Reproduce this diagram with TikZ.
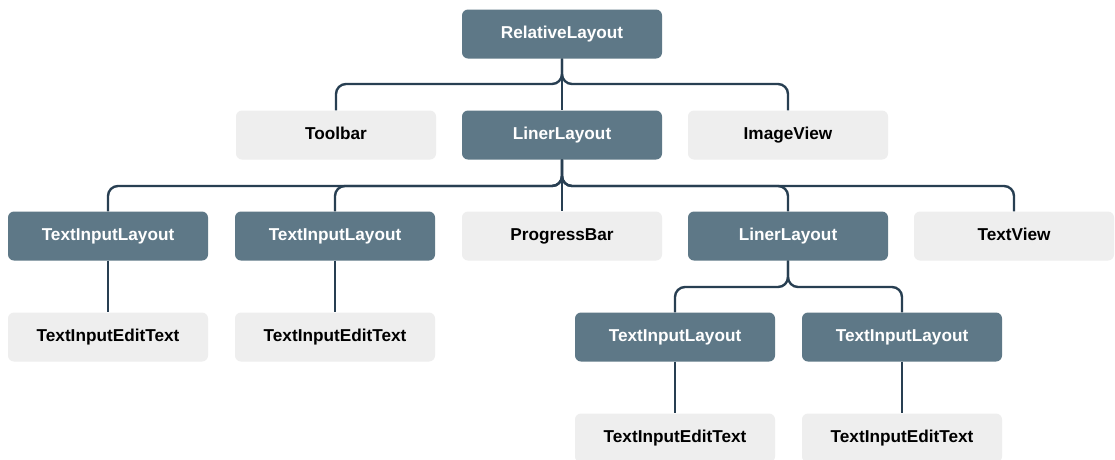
\documentclass[tikz,border=0pt]{standalone}
\usepackage{fontspec}
\setmainfont{Liberation Sans}
\definecolor{slate}{HTML}{5E7887}
\definecolor{leaf}{HTML}{EEEEEE}
\definecolor{wire}{HTML}{283F52}
\tikzset{
  box/.style={rounded corners=6pt, minimum width=200pt, minimum height=49pt,
    inner sep=0pt, text height=12.6pt, text depth=3.4pt,
    font=\fontsize{17.2}{20}\selectfont\bfseries},
  group/.style={box, fill=slate, text=white},
  item/.style={box, fill=leaf, text=black},
  link/.style={draw=wire, line width=2.4pt, rounded corners=10pt},
}
\begin{document}
\begin{tikzpicture}[x=1pt, y=-1pt]
\useasboundingbox (0,0) rectangle (1115,459);
\clip (0,0) rectangle (1115,459);
\fill[white] (0,0) rectangle (1115,459);

% level 0
\node[group] (rl) at (562,34) {RelativeLayout};
% level 1
\node[item]  (tb)  at (336,135) {Toolbar};
\node[group] (ll1) at (562,135) {LinerLayout};
\node[item]  (iv)  at (788,135) {ImageView};
% level 2
\node[group] (til1) at (108,236) {TextInputLayout};
\node[group] (til2) at (335,236) {TextInputLayout};
\node[item]  (pb)   at (562,236) {ProgressBar};
\node[group] (ll2)  at (788,236) {LinerLayout};
\node[item]  (tv)   at (1014,236) {TextView};
% level 3
\node[item]  (tiet1) at (108,337) {TextInputEditText};
\node[item]  (tiet2) at (335,337) {TextInputEditText};
\node[group] (til3)  at (675,337) {TextInputLayout};
\node[group] (til4)  at (902,337) {TextInputLayout};
% level 4
\node[item]  (tiet3) at (675,438) {TextInputEditText};
\node[item]  (tiet4) at (902,438) {TextInputEditText};

% bus levels
\coordinate (b0) at (0,84);
\coordinate (b1) at (0,186);
\coordinate (b2) at (0,287);

\foreach \c in {tb,ll1,iv}
  \draw[link] (rl.south) -- (rl.south |- b0) -- (\c.north |- b0) -- (\c.north);
\foreach \c in {til1,til2,pb,ll2,tv}
  \draw[link] (ll1.south) -- (ll1.south |- b1) -- (\c.north |- b1) -- (\c.north);
\foreach \c in {til3,til4}
  \draw[link] (ll2.south) -- (ll2.south |- b2) -- (\c.north |- b2) -- (\c.north);
\draw[link] (til1.south) -- (tiet1.north);
\draw[link] (til2.south) -- (tiet2.north);
\draw[link] (til3.south) -- (tiet3.north);
\draw[link] (til4.south) -- (tiet4.north);
\end{tikzpicture}
\end{document}
